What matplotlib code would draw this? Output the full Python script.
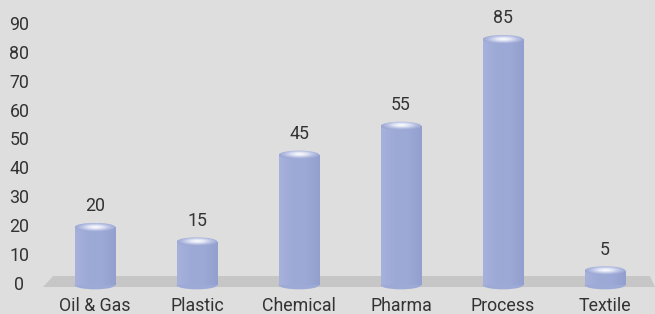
import numpy as np
import matplotlib
matplotlib.use("Agg")
import matplotlib.pyplot as plt
from matplotlib.patches import Ellipse, Rectangle, Polygon
from matplotlib.colors import LinearSegmentedColormap

# data
categories = ["Oil & Gas", "Plastic", "Chemical", "Pharma", "Process", "Textile"]
values = [20, 15, 45, 55, 85, 5]
ticks = [0, 10, 20, 30, 40, 50, 60, 70, 80, 90]

bg = "#dedede"
bar_col = "#9eaad6"
txt_col = "#333333"

plt.rcParams["font.family"] = ["Roboto", "DejaVu Sans"]
fs = 12.8

fig = plt.figure(figsize=(6.55, 3.14), dpi=100, facecolor=bg)
ax = fig.add_axes([0, 0, 1, 1])
ax.set_facecolor(bg)
ax.set_xlim(-0.931, 5.49)
ax.set_ylim(-10.03, 98.6)
ax.axis("off")

# floor
floor = Polygon([(-0.51, -0.7), (5.49, -0.7), (5.44, 3.1), (-0.41, 3.1)],
                closed=True, facecolor="#c6c6c6", edgecolor="none", zorder=1)
ax.add_patch(floor)

w = 0.40      # bar width (x units)
eh = 3.0      # ellipse height (y units)

body_cmap = LinearSegmentedColormap.from_list("body", ["#a6b1dc", "#9eaad6", "#9ca8d5", "#93a0cf"])
top_cmap = LinearSegmentedColormap.from_list("top", ["#ffffff", "#e4e8f6", "#bcc4e5", "#9ca8d4"])

for i, v in enumerate(values):
    # bottom ellipse
    bot = Ellipse((i, 0), w, eh, facecolor=bar_col, edgecolor="none", zorder=2)
    ax.add_patch(bot)
    # body with slight horizontal gradient
    body = Rectangle((i - w / 2, 0), w, v, facecolor="none", edgecolor="none", zorder=3)
    ax.add_patch(body)
    grad = np.linspace(0, 1, 64).reshape(1, -1)
    im = ax.imshow(grad, cmap=body_cmap, extent=(i - w / 2, i + w / 2, 0, v),
                   aspect="auto", zorder=3, interpolation="bicubic")
    im.set_clip_path(body)
    # top ellipse with radial gradient
    top = Ellipse((i, v), w, eh, facecolor="none", edgecolor="none", zorder=4)
    ax.add_patch(top)
    xx, yy = np.meshgrid(np.linspace(-1, 1, 80), np.linspace(-1, 1, 40))
    r = np.sqrt(xx ** 2 + (yy - 0.1) ** 2)
    im2 = ax.imshow(np.clip(r, 0, 1), cmap=top_cmap,
                    extent=(i - w / 2, i + w / 2, v - eh / 2, v + eh / 2),
                    aspect="auto", zorder=4, interpolation="bicubic", origin="lower")
    im2.set_clip_path(top)
    # value label
    ax.text(i, v + 7.2, str(v), ha="center", va="center", fontsize=fs, color=txt_col, zorder=5)
    # category label
    ax.text(i, -7.2, categories[i], ha="center", va="center", fontsize=fs, color=txt_col, zorder=5)

# y tick labels
for t in ticks:
    ax.text(-0.74, t, str(t), ha="center", va="center", fontsize=fs, color=txt_col)

fig.savefig("out.png", dpi=100, facecolor=bg)
